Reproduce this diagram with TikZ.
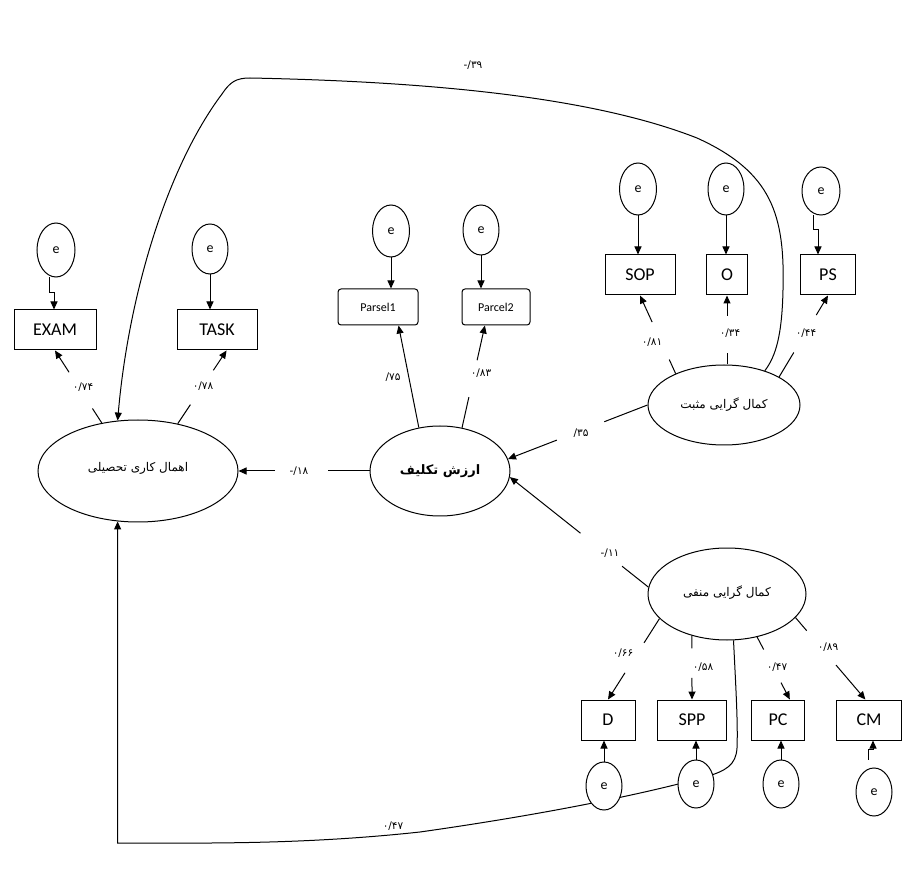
\documentclass[tikz,border=0pt]{standalone}
\usepackage{fontspec}
\setmainfont{Carlito}
\newfontfamily\fa[Script=Arabic]{DejaVu Sans}
\newfontfamily\fanum{DejaVu Sans}
\TeXXeTstate=1
\usetikzlibrary{shapes.geometric,arrows.meta,calc}
\tikzset{
 lat/.style={draw, ellipse, line width=1pt, inner sep=0pt, font=\fa\fontsize{12}{14}\selectfont},
 obs/.style={draw, rectangle, line width=1pt, inner sep=0pt, minimum height=40pt, font=\fontsize{18}{21}\selectfont},
 parc/.style={obs, rounded corners=3pt, minimum height=36pt, font=\fontsize{12}{14}\selectfont},
 err/.style={draw, ellipse, fill=white, line width=1pt, inner sep=0pt, minimum width=37pt, minimum height=51pt, font=\fontsize{14}{16}\selectfont},
 arr/.style={line width=1pt, -{Triangle[length=8pt,width=7pt]}},
 ln/.style={line width=1pt},
 num/.style={font=\fanum\fontsize{10.5}{12}\selectfont, inner sep=1pt},
}
\newcommand\semline[4]{%
  \draw[ln] (#1) -- ($(#1)!#3!(#2)$);
  \draw[arr] ($(#1)!#4!(#2)$) -- (#2);
}
\begin{document}
\begin{tikzpicture}[x=1pt,y=-1pt]
\useasboundingbox (0,0) rectangle (906,877);
\fill[white] (0,0) rectangle (906,877);

% latent variables
\node[lat, minimum width=200pt, minimum height=102pt] (leftE) at (138,471) {\raisebox{8pt}{\beginR اهمال کاری تحصیلی\endR}};
\node[lat, minimum width=140pt, minimum height=90pt, font=\fa\bfseries\fontsize{13}{15}\selectfont] (valueE) at (440,471) {\beginR ارزش تکلیف\endR};
\node[lat, minimum width=152pt, minimum height=80pt] (posE) at (724,405) {\raisebox{4pt}{\beginR کمال گرایی مثبت\endR}};
\node[lat, minimum width=158pt, minimum height=92pt] (negE) at (727,594) {\raisebox{6pt}{\beginR کمال گرایی منفی\endR}};

% indicators
\node[obs, minimum width=82pt] (EXAM) at (55,330) {EXAM};
\node[obs, minimum width=80pt] (TASK) at (217,330) {TASK};
\node[parc, minimum width=80pt] (P1) at (378,307) {Parsel1};
\node[parc, minimum width=68pt] (P2) at (496,307) {Parcel2};
\node[obs, minimum width=70pt] (SOP) at (640,275) {SOP};
\node[obs, minimum width=41pt] (O) at (727,275) {O};
\node[obs, minimum width=55pt] (PS) at (828,275) {PS};
\node[obs, minimum width=54pt] (D) at (608,720) {D};
\node[obs, minimum width=69pt] (SPP) at (692,720) {SPP};
\node[obs, minimum width=53pt] (PC) at (778,720) {PC};
\node[obs, minimum width=65pt] (CM) at (869,720) {CM};

% long curved paths
\draw[arr] (posE.40) .. controls (776,356) and (782,335) .. (783,290)
  .. controls (785,215) and (772,172) .. (697,138)
  .. controls (600,100) and (450,82) .. (250,78)
  .. controls (236,78) and (230,82) .. (222,94)
  .. controls (165,170) and (128,300) .. (leftE.112);
\draw[arr] (negE.-82) .. controls (736,690) and (738,725) .. (737,748)
  .. controls (736,765) and (726,771) .. (705,777)
  .. controls (640,795) and (540,815) .. (420,832)
  .. controls (300,845) and (200,843) .. (leftE.248 |- 0,843) -- (leftE.248);

% error terms
\node[err, minimum width=38pt, minimum height=54pt] (eEXAM) at (56,250) {e};
\node[err, minimum width=36pt, minimum height=50pt] (eTASK) at (210,249) {e};
\node[err, minimum width=37pt, minimum height=52pt] (eP1) at (391,231) {e};
\node[err, minimum width=36pt, minimum height=50pt] (eP2) at (481,230) {e};
\node[err, minimum width=37pt, minimum height=52pt] (eSOP) at (638,189) {e};
\node[err, minimum width=36pt, minimum height=52pt] (eO) at (726,189) {e};
\node[err, minimum width=38pt, minimum height=48pt] (ePS) at (821,191) {e};
\node[err, minimum width=36pt, minimum height=48pt] (eD) at (604,786) {e};
\node[err, minimum width=36pt, minimum height=48pt] (eSPP) at (696,784) {e};
\node[err, minimum width=36pt, minimum height=48pt] (ePC) at (781,784) {e};
\node[err, minimum width=36pt, minimum height=48pt] (eCM) at (874,792) {e};

% error arrows
\draw[arr] ($(eEXAM.south)+(-7,0)$) |- ++(5,15) coordinate (exj) -- (exj |- EXAM.north);
\draw[arr] (eTASK.south) -- (eTASK.south |- TASK.north);
\draw[arr] (eP1.south) -- (eP1.south |- P1.north);
\draw[arr] (eP2.south) -- (eP2.south |- P2.north);
\draw[arr] (eSOP.south) -- (eSOP.south |- SOP.north);
\draw[arr] (eO.south) -- (eO.south |- O.north);
\draw[arr] ($(ePS.south)+(-8,0)$) |- ++(5,14) coordinate (psj) -- (psj |- PS.north);
\draw[arr] (eD.north) -- (eD.north |- D.south);
\draw[arr] (eSPP.north) -- (eSPP.north |- SPP.south);
\draw[arr] (ePC.north) -- (ePC.north |- PC.south);
\draw[arr] ($(eCM.north)+(-6,-8)$) |- ++(5,-10) coordinate (cmj) -- (cmj |- CM.south);

% loadings
\semline{leftE.127}{EXAM.south}{0.2}{0.7}
\semline{leftE.50}{TASK.-65}{0.26}{0.73}
\draw[arr] (valueE.116) -- (P1.-42);
\semline{valueE.63}{P2.-121}{0.30}{0.66}
\semline{posE.147}{SOP.south}{0.18}{0.66}
\semline{O.south |- posE.north}{O.south}{0.17}{0.71}
\semline{posE.27}{PS.south}{0.3}{0.76}
\semline{negE.200}{D.north}{0.3}{0.67}
\semline{negE.230}{SPP.north}{0.2}{0.66}
\semline{negE.305}{PC.60}{0.2}{0.73}
\semline{negE.341}{CM.100}{0.16}{0.58}

% structural paths
\semline{valueE.west}{leftE.east}{0.32}{0.72}
\semline{posE.west}{valueE.10}{0.31}{0.65}
\semline{negE.175}{valueE.-5}{0.19}{0.49}

% coefficients
\node[num] (l39) at (473,65) {-/۳۹};
\node[num] (l74) at (83,387) {۰/۷۴};
\node[num] (l78) at (203,386) {۰/۷۸};
\node[num] (l75) at (393,377) {/۷۵};
\node[num] (l83) at (481,373) {۰/۸۳};
\node[num] (l81) at (652,342) {۰/۸۱};
\node[num] (l34) at (730,333) {۰/۳۴};
\node[num] (l44) at (806,333) {۰/۴۴};
\node[num] (l35) at (581,433) {/۳۵};
\node[num] (l18) at (299,471) {-/۱۸};
\node[num] (l11) at (610,553) {-/۱۱};
\node[num] (l66) at (623,653) {۰/۶۶};
\node[num] (l58) at (703,667) {۰/۵۸};
\node[num] (l47) at (777,667) {۰/۴۷};
\node[num] (l89) at (828,647) {۰/۸۹};
\node[num] (l47b) at (393,826) {۰/۴۷};
\end{tikzpicture}
\end{document}
